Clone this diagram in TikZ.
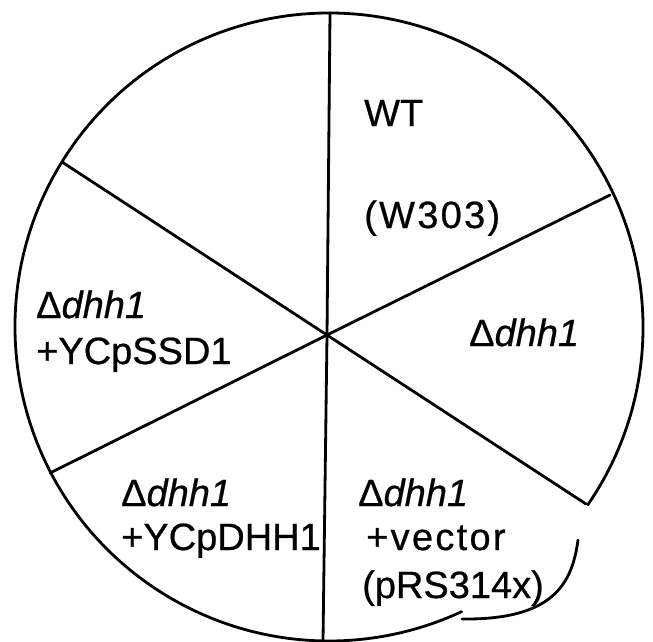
\documentclass[tikz,border=0pt]{standalone}
\usepackage{fontspec}
\setmainfont{Liberation Sans}
\begin{document}
\begin{tikzpicture}[x=1pt,y=-1pt,
  rim/.style={line width=2.8pt,line cap=round,line join=round},
  spoke/.style={line width=2.8pt,line cap=round},
  lbl/.style={anchor=base west,inner sep=0pt,font=\fontsize{38}{44}\selectfont\addfontfeature{FakeBold=0.6}},
  wide/.style={font=\fontsize{38}{44}\selectfont\addfontfeature{FakeBold=0.6,LetterSpace=6}}]
\useasboundingbox (0,0) rectangle (653,641);
\fill[white] (0,0) rectangle (653,641);

% plate outline, open at the lower right where a loose stroke bulges outward
\coordinate (ctr) at (329,327);
\draw[rim] ([shift={(34.5:314)}]ctr) arc[start angle=34.5,end angle=-295,radius=314];
\coordinate (s0) at (578,540);
\coordinate (s1) at (462,619);
\draw[rim] (s0) .. controls (572,585) and (552,620) .. (s1);

% sector dividers
\coordinate (hub) at (327,335);
\coordinate (top) at (330,13);
\coordinate (bot) at (323,641);
\coordinate (ul) at (62,162);
\coordinate (lr) at (586,504);
\coordinate (ll) at (50,473);
\coordinate (ur) at (610,195);
\draw[spoke] (top) -- (hub) -- (bot);
\draw[spoke] (ul) -- (hub) -- (lr);
\draw[spoke] (ll) -- (hub) -- (ur);

% strain labels
\node[lbl] (wt) at (364,126) {WT};
\node[lbl,wide] (w303) at (364,228) {(W303)};
\node[lbl] (d1) at (469,346) {Δ\textit{dhh1}};
\node[lbl] (d2a) at (36,318) {Δ\textit{dhh1}};
\node[lbl] (d2b) at (36,364) {+YCpSSD1};
\node[lbl] (d3a) at (121,506) {Δ\textit{dhh1}};
\node[lbl] (d3b) at (121,550) {+YCpDHH1};
\node[lbl] (d4a) at (358,506) {Δ\textit{dhh1}};
\node[lbl,wide] (d4b) at (366,550) {+vector};
\node[lbl] (d4c) at (362,598) {(pRS314x)};
\end{tikzpicture}
\end{document}
